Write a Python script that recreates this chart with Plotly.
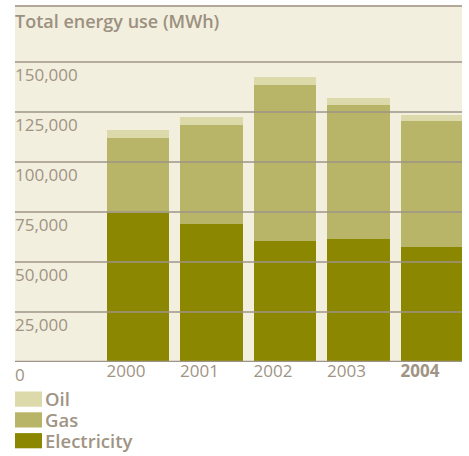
import plotly.graph_objects as go

# ---- data ----
years = ["2000", "2001", "2002", "2003", "2004"]
year_labels = ["2000", "2001", "2002", "2003", "<b>2004</b>"]
electricity = [74700, 69000, 60500, 61500, 57500]
gas = [37450, 49650, 78200, 67200, 63150]
oil = [4000, 4000, 4000, 3500, 3000]
series_names = ["Electricity", "Gas", "Oil"]
y_ticks = [0, 25000, 50000, 75000, 100000, 125000, 150000]
y_tick_labels = ["0", "25,000", "50,000", "75,000", "100,000", "125,000", "150,000"]
title_text = "Total energy use (MWh)"

# ---- styles ----
W, H = 469, 456
ML, MR, MT, MB = 15, 7, 6, 94
colors = {"Electricity": "#8B8800", "Gas": "#B8B468", "Oil": "#DCD9AA"}
bg = "#F2EFDF"
grid_c = "#9E9487"
text_c = "#A09484"
FONT = "Open Sans"

fig = go.Figure()
values = {"Electricity": electricity, "Gas": gas, "Oil": oil}
for name in series_names:
    fig.add_trace(go.Bar(
        x=list(range(len(years))), y=values[name], name=name,
        marker=dict(color=colors[name], line=dict(width=0)),
        width=0.844, showlegend=False,
    ))

shapes = []
for v in y_ticks[1:]:
    shapes.append(dict(type="line", xref="paper", yref="y", x0=0, x1=1, y0=v, y1=v,
                       line=dict(color=grid_c, width=1.7), layer="above"))
shapes.append(dict(type="line", xref="paper", yref="y", x0=0, x1=1, y0=0, y1=0,
                   line=dict(color=grid_c, width=2.6), layer="above"))
shapes.append(dict(type="line", xref="paper", yref="paper", x0=0, x1=1, y0=1, y1=1,
                   line=dict(color="#B3A898", width=2), layer="above"))

ph = H - MT - MB
pw = W - ML - MR
def py(pix):
    return (H - MB - pix) / ph
def px(pix):
    return (pix - ML) / pw

annotations = [dict(text=title_text, xref="paper", yref="paper",
                    x=px(13), y=py(21.5), xanchor="left", yanchor="middle",
                    showarrow=False,
                    font=dict(family=FONT, size=18, weight=600, color="#9C9080"))]

legend_order = ["Oil", "Gas", "Electricity"]
for i, name in enumerate(legend_order):
    top = 391.5 + i * 20.8
    shapes.append(dict(type="rect", xref="paper", yref="paper",
                       x0=px(15), x1=px(42), y0=py(top), y1=py(top + 15.2),
                       fillcolor=colors[name], line=dict(width=0)))
    annotations.append(dict(text=name, xref="paper", yref="paper",
                            x=px(44), y=py(top + 7.3), xanchor="left", yanchor="middle",
                            showarrow=False, borderpad=0,
                            font=dict(family=FONT, size=18.5, weight=600, color=text_c)))

fig.update_layout(
    width=W, height=H,
    margin=dict(l=ML, r=MR, t=MT, b=MB, pad=0),
    paper_bgcolor="white", plot_bgcolor=bg,
    barmode="stack", bargap=0,
    shapes=shapes, annotations=annotations,
    font=dict(family=FONT, color=text_c, size=17),
    xaxis=dict(range=[-1.673, 4.408], tickvals=list(range(len(years))), ticktext=year_labels,
               showgrid=False, zeroline=False, showline=False, ticks="",
               ticklabelshift=-12, ticklabelstandoff=-3,
               tickfont=dict(family=FONT, size=17, color=text_c)),
    yaxis=dict(range=[0, 178000], tickvals=y_ticks, ticktext=y_tick_labels,
               showgrid=False, zeroline=False, showline=False, ticks="",
               ticklabelposition="inside", ticklabelshift=13, ticklabelstandoff=-3,
               ticklabeloverflow="allow",
               tickfont=dict(family=FONT, size=17, color=text_c)),
)

fig.write_html("out.html")
